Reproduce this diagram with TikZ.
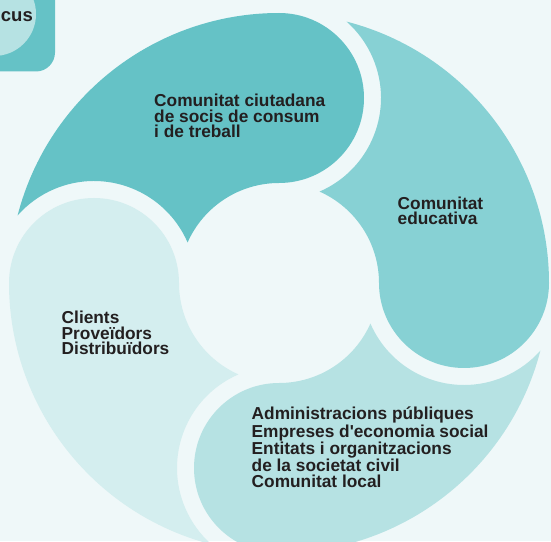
\documentclass[tikz,border=0pt]{standalone}
\usepackage{fontspec}
\setmainfont{Liberation Sans}
\definecolor{bg}{HTML}{EFF8F9}
\definecolor{cA}{HTML}{65C2C6}
\definecolor{cB}{HTML}{87D1D4}
\definecolor{cC}{HTML}{B6E2E3}
\definecolor{cD}{HTML}{D4EEEF}
\definecolor{ink}{HTML}{231F20}
\tikzset{
  lbl/.style={anchor=base west, inner sep=0pt, align=left, text=ink,
    font=\bfseries\fontsize{17.3}{15.6}\selectfont},
}
\begin{document}
\begin{tikzpicture}[x=1pt,y=1pt]
\useasboundingbox (0,0) rectangle (551,541);
\clip (0,0) rectangle (551,541);
\fill[bg] (0,0) rectangle (551,541);
% corner box
\fill[cA, rounded corners=19pt] (-40,469.5) rectangle (55,580);
\fill[cC] (-6,527) circle[radius=42];
\node[lbl, anchor=base east, font=\bfseries\fontsize{18.5}{15.6}\selectfont] (focus) at (33,519.3) {cus};
% four comma shapes
\begin{scope}[shift={(279,258)}]
\foreach \ang/\col in {0/cA,90/cD,180/cC,270/cB}{
  \fill[\col, rotate=\ang] (0,270)
    arc[start angle=90,end angle=-90,radius=85]
    arc[start angle=90,end angle=156.08,radius=100]
    arc[start angle=23.43,end angle=138.52,radius=102]
    arc[start angle=165.51,end angle=90,radius=270] -- cycle;
}
\end{scope}
% anchors at the baseline of the last line
\node[lbl] (soc) at (154,403) {Comunitat ciutadana\\de socis de consum\\i de treball};
\node[lbl] (edu) at (397.5,316) {Comunitat\\educativa};
\node[lbl] (cli) at (61.5,186) {Clients\\Proveïdors\\Distribuïdors};
\node[lbl] (adm) at (251.5,54) {Administracions públiques\\Empreses d\textquotesingle economia social\\Entitats i organitzacions\\de la societat civil\\Comunitat local};
\end{tikzpicture}
\end{document}
